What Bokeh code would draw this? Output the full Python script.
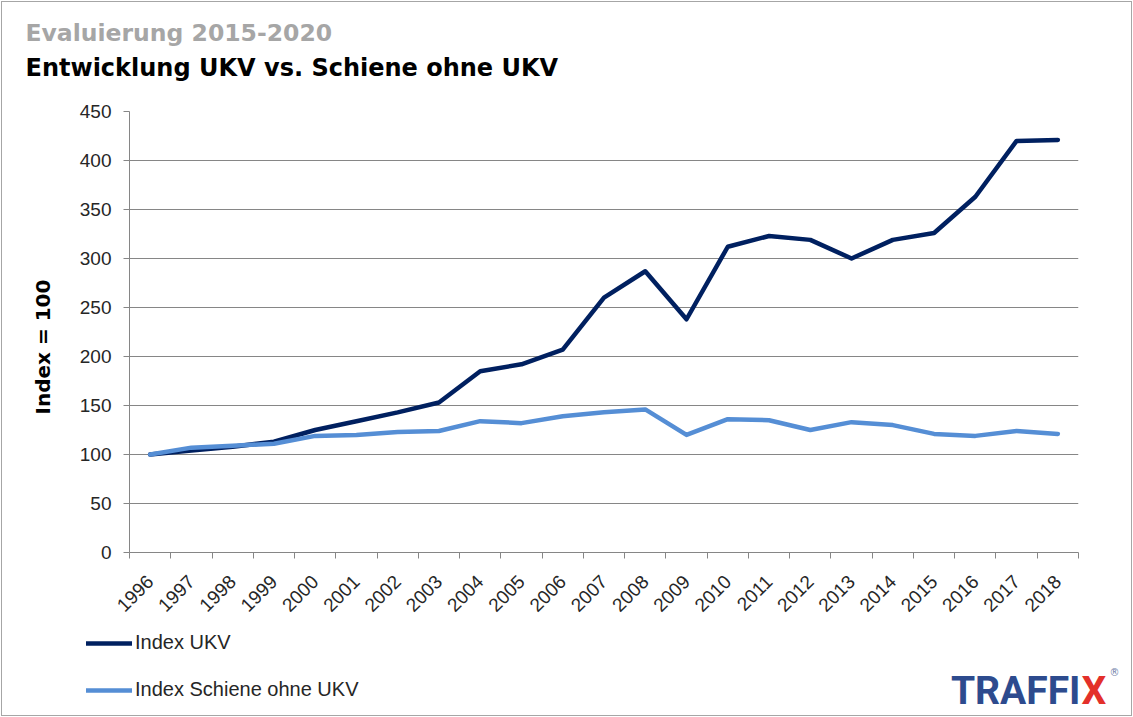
import math
from bokeh.plotting import figure
from bokeh.layouts import column
from bokeh.models import Range1d, FixedTicker, Label, Legend, LegendItem, Title
from bokeh.embed import file_html
from bokeh.resources import INLINE

# ---- data ----
years = ["1996", "1997", "1998", "1999", "2000", "2001", "2002", "2003", "2004",
         "2005", "2006", "2007", "2008", "2009", "2010", "2011", "2012", "2013",
         "2014", "2015", "2016", "2017", "2018"]
ukv = [100, 104, 108, 113, 125, 134, 143, 153, 185, 192, 207, 260, 287, 238,
       312, 323, 319, 300, 319, 326, 363, 420, 421]
schiene = [100, 107, 109, 111, 119, 120, 123, 124, 134, 132, 139, 143, 146, 120,
           136, 135, 125, 133, 130, 121, 119, 124, 121]
y_ticks = [0, 50, 100, 150, 200, 250, 300, 350, 400, 450]

title_top = "Evaluierung 2015-2020"
title_main = "Entwicklung UKV vs. Schiene ohne UKV"
y_label = "Index = 100"
series_names = ["Index UKV", "Index Schiene ohne UKV"]

# ---- styles ----
DARK = "#002060"
LIGHT = "#558ED5"
GRID = "#868686"
TXT = "#262626"
FONT = "Liberation Sans"
BOLD_FONT = "DejaVu Sans"
W = 1133
H_HEAD, H_MAIN, H_FOOT = 95, 530, 92


def no_align(f):
    if "frame_align" in f.properties():
        f.frame_align = False


def transparent(f):
    f.outline_line_color = None
    f.background_fill_alpha = 0
    f.border_fill_alpha = 0


def blank(height):
    f = figure(width=W, height=height, x_range=Range1d(0, W),
               y_range=Range1d(0, height), output_backend="svg",
               toolbar_location=None, x_axis_type=None, y_axis_type=None,
               min_border=0, min_border_left=0, min_border_right=0,
               min_border_top=0, min_border_bottom=0)
    transparent(f)
    no_align(f)
    return f


# ---- header with the two titles ----
head = blank(H_HEAD)
head.add_layout(Label(x=25, y=H_HEAD - 32, x_units="screen", y_units="screen",
                      text=title_top, text_font=BOLD_FONT, text_font_style="bold",
                      text_font_size="23.5px", text_color="#A6A6A6",
                      text_baseline="alphabetic", text_align="left"))
head.add_layout(Label(x=25, y=H_HEAD - 67, x_units="screen", y_units="screen",
                      text=title_main, text_font=BOLD_FONT, text_font_style="bold",
                      text_font_size="24px", text_color="black",
                      text_baseline="alphabetic", text_align="left"))

# ---- main chart ----
idx = list(range(len(years)))
p = figure(width=W, height=H_MAIN,
           x_range=Range1d(-0.5, len(years) - 0.5),
           y_range=Range1d(y_ticks[0], y_ticks[-1]),
           output_backend="svg", toolbar_location=None,
           min_border_left=129, min_border_right=55,
           min_border_top=16, min_border_bottom=73)
transparent(p)
no_align(p)

p.yaxis.ticker = FixedTicker(ticks=y_ticks, minor_ticks=[])
p.yaxis.axis_line_color = GRID
p.yaxis.major_tick_line_color = GRID
p.yaxis.major_tick_out = 6
p.yaxis.major_tick_in = 0
p.yaxis.minor_tick_line_color = None
p.yaxis.major_label_text_font = FONT
p.yaxis.major_label_text_font_size = "19px"
p.yaxis.major_label_text_color = TXT
p.yaxis.major_label_standoff = 12

p.xaxis.ticker = FixedTicker(ticks=idx,
                             minor_ticks=[i - 0.5 for i in range(len(years) + 1)])
p.xaxis.major_label_overrides = {i: y for i, y in zip(idx, years)}
p.xaxis.major_label_orientation = math.pi / 4
p.xaxis.axis_line_color = GRID
p.xaxis.major_tick_line_color = None
p.xaxis.minor_tick_line_color = GRID
p.xaxis.minor_tick_out = 6
p.xaxis.minor_tick_in = 0
p.xaxis.major_label_text_font = FONT
p.xaxis.major_label_text_font_size = "19px"
p.xaxis.major_label_text_color = TXT
p.xaxis.major_label_standoff = 20

p.xgrid.visible = False
p.ygrid.ticker = FixedTicker(ticks=y_ticks, minor_ticks=[])
p.ygrid.grid_line_color = GRID
p.ygrid.grid_line_width = 1

p.line(idx, ukv, line_color=DARK, line_width=4.5,
       line_join="round", line_cap="round")
p.line(idx, schiene, line_color=LIGHT, line_width=4.5,
       line_join="round", line_cap="round")

p.add_layout(Title(text=y_label, text_font=BOLD_FONT, text_font_style="bold",
                   text_font_size="20px", text_color="black",
                   align="left", offset=138, standoff=44), "left")

# ---- footer: legend + logo ----
foot = blank(H_FOOT)
# same series again; they lie above this strip's visible y-range, so only
# their legend samples show
g1 = foot.line(idx, ukv, line_color=DARK, line_width=4.5, line_cap="round")
g2 = foot.line(idx, schiene, line_color=LIGHT, line_width=4.5, line_cap="round")
legend = Legend(items=[LegendItem(label=series_names[0], renderers=[g1]),
                       LegendItem(label=series_names[1], renderers=[g2])],
                location=(86, 16), orientation="vertical",
                padding=0, spacing=24, margin=0,
                glyph_width=46, glyph_height=20, label_height=20,
                label_standoff=3,
                label_text_font=FONT, label_text_font_size="20px",
                label_text_color=TXT,
                border_line_color=None, background_fill_alpha=0)
foot.add_layout(legend)

foot.add_layout(Label(x=1080, y=27, x_units="screen", y_units="screen",
                      text="TRAFFI", text_font="Roboto", text_font_style="bold",
                      text_font_size="39px", text_color="#2D4B8E",
                      text_align="right", text_baseline="alphabetic"))
foot.add_layout(Label(x=1081, y=27, x_units="screen", y_units="screen",
                      text="X", text_font="Roboto", text_font_style="bold",
                      text_font_size="39px", text_color="#E3302A",
                      text_align="left", text_baseline="alphabetic"))
foot.add_layout(Label(x=1109, y=45, x_units="screen", y_units="screen",
                      text="®", text_font="DejaVu Sans",
                      text_font_size="10px", text_color="#6F7FA8",
                      text_align="left", text_baseline="alphabetic"))

layout = column(head, p, foot, spacing=0)
layout.styles = {"background-color": "white",
                 "box-shadow": "inset 0 0 0 1px #FFFFFF, inset 0 0 0 2px #A6A6A6"}
open("out.html", "w").write(file_html(layout, INLINE))
